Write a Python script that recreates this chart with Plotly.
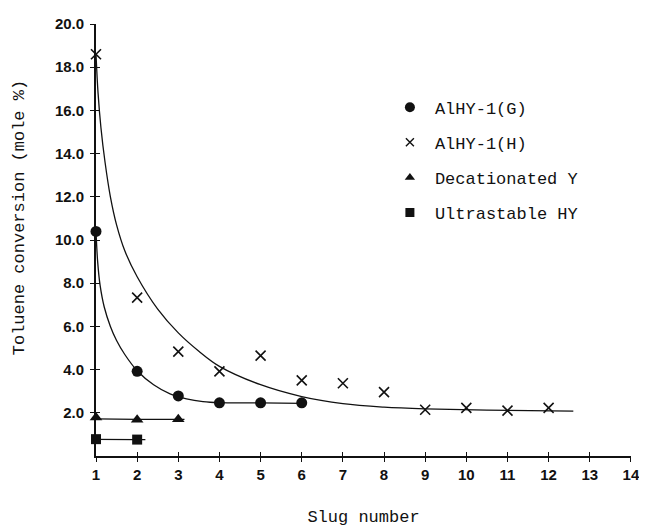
import plotly.graph_objects as go

# ---- data ----
slug_g = [1, 2, 3, 4, 5, 6]
conv_g = [10.4, 3.92, 2.78, 2.46, 2.46, 2.46]

slug_h = [1, 2, 3, 4, 5, 6, 7, 8, 9, 10, 11, 12]
conv_h = [18.6, 7.33, 4.83, 3.92, 4.65, 3.5, 3.37, 2.96, 2.14, 2.23, 2.1, 2.23]

slug_dec = [1, 2, 3]
conv_dec = [1.78, 1.68, 1.7]

slug_us = [1, 2]
conv_us = [0.78, 0.76]

# hand-drawn fitted curves
fit_h_x = [1.0, 1.05, 1.12, 1.22, 1.35, 1.5, 1.7, 2.0, 2.5, 3.0, 3.5, 4.0, 5.0, 6.0, 7.0, 8.0, 9.0, 10.5, 12.6]
fit_h_y = [18.6, 16.8, 15.2, 13.6, 12.0, 10.7, 9.5, 8.3, 6.8, 5.7, 4.85, 4.15, 3.3, 2.75, 2.42, 2.26, 2.18, 2.12, 2.08]

fit_g_x = [1.0, 1.04, 1.1, 1.2, 1.35, 1.5, 1.7, 2.0, 2.4, 2.8, 3.2, 3.6, 4.0, 5.0, 6.0]
fit_g_y = [10.4, 9.0, 7.9, 6.9, 6.0, 5.35, 4.7, 3.95, 3.3, 2.88, 2.65, 2.52, 2.47, 2.46, 2.44]

fit_dec_x = [1.0, 2.0, 3.0, 3.15]
fit_dec_y = [1.72, 1.7, 1.7, 1.7]

fit_us_x = [1.0, 2.0, 2.2]
fit_us_y = [0.77, 0.76, 0.76]

series_names = ["AlHY-1(G)", "AlHY-1(H)", "Decationated Y", "Ultrastable HY"]

x_ticks = list(range(1, 15))
y_ticks = [2, 4, 6, 8, 10, 12, 14, 16, 18, 20]

# ---- styling ----
BLACK = "#111111"
mono = "Liberation Mono, Courier New, monospace"
sans = "Liberation Sans, Arial, sans-serif"

fig = go.Figure()

line_style = dict(color=BLACK, width=1.3)
for fx, fy in [(fit_h_x, fit_h_y), (fit_g_x, fit_g_y), (fit_dec_x, fit_dec_y), (fit_us_x, fit_us_y)]:
    fig.add_trace(go.Scatter(x=fx, y=fy, mode="lines", line=dict(shape="spline", smoothing=1.0, **line_style),
                             showlegend=False, hoverinfo="skip", cliponaxis=False))

fig.add_trace(go.Scatter(x=slug_g, y=conv_g, mode="markers", showlegend=False, cliponaxis=False,
                         marker=dict(symbol="circle", size=11, color=BLACK)))
fig.add_trace(go.Scatter(x=slug_h, y=conv_h, mode="markers", showlegend=False, cliponaxis=False,
                         marker=dict(symbol="x-thin-open", size=10, color=BLACK, line=dict(color=BLACK, width=1.6))))
fig.add_trace(go.Scatter(x=slug_dec, y=conv_dec, mode="markers", showlegend=False, cliponaxis=False,
                         marker=dict(symbol="triangle-up", size=11, color=BLACK)))
fig.add_trace(go.Scatter(x=slug_us, y=conv_us, mode="markers", showlegend=False, cliponaxis=False,
                         marker=dict(symbol="square", size=10, color=BLACK)))

# legend-only entries
leg_markers = [
    dict(symbol="circle", size=10, color=BLACK),
    dict(symbol="x-thin-open", size=8, color=BLACK, line=dict(color=BLACK, width=1.4)),
    dict(symbol="triangle-up", size=9, color=BLACK),
    dict(symbol="square", size=9, color=BLACK),
]
for name, mk in zip(series_names, leg_markers):
    fig.add_trace(go.Scatter(x=[None], y=[None], mode="markers", name=name, marker=mk,
                             legendgroup=name, showlegend=True))

# dummy trace for the overlay axes (inner half of crossing ticks)
fig.add_trace(go.Scatter(x=[None], y=[None], xaxis="x2", yaxis="y2", showlegend=False, hoverinfo="skip"))

axis_common = dict(showgrid=False, zeroline=False, linecolor=BLACK, tickcolor=BLACK, ticklen=4, tickwidth=1.3)
tickfont = dict(family=sans, size=15, color=BLACK, weight="bold")

# the page adds an 8px body margin, so the figure is 8px smaller and margins compensate
fig.update_layout(
    width=639, height=522,
    margin=dict(l=88, r=7, t=11, b=72),
    paper_bgcolor="white", plot_bgcolor="white",
    xaxis=dict(range=[1, 14.002], tickvals=x_ticks, ticktext=[str(v) for v in x_ticks],
               showline=True, linewidth=1.8, ticks="outside", tickfont=tickfont, ticklabeloverflow="allow",
               title=dict(text="Slug number", font=dict(family=mono, size=17, color=BLACK), standoff=28),
               **axis_common),
    yaxis=dict(range=[0, 20.002], tickvals=y_ticks, ticktext=[f"{v:.1f}" for v in y_ticks],
               showline=True, linewidth=1.8, ticks="outside", tickfont=tickfont, ticklabelstandoff=3,
               ticklabeloverflow="allow", **axis_common),
    xaxis2=dict(range=[1, 14.002], tickvals=x_ticks, overlaying="x", anchor="y2", side="bottom",
                showline=False, ticks="inside", showticklabels=False, **axis_common),
    yaxis2=dict(range=[0, 20.002], tickvals=y_ticks, overlaying="y", anchor="x2", side="left",
                showline=False, ticks="inside", showticklabels=False, **axis_common),
    legend=dict(x=0.54, y=0.848, xanchor="left", yanchor="top", bgcolor="rgba(0,0,0,0)",
                font=dict(family=mono, size=17, color=BLACK), tracegroupgap=10, itemwidth=40),
    showlegend=True,
    annotations=[dict(text="Toluene conversion (mole %)", xref="paper", yref="paper",
                      x=-0.1415, y=0.551, xanchor="center", yanchor="middle", textangle=-90,
                      showarrow=False, font=dict(family=mono, size=17, color=BLACK))],
)

fig.write_html("out.html")
